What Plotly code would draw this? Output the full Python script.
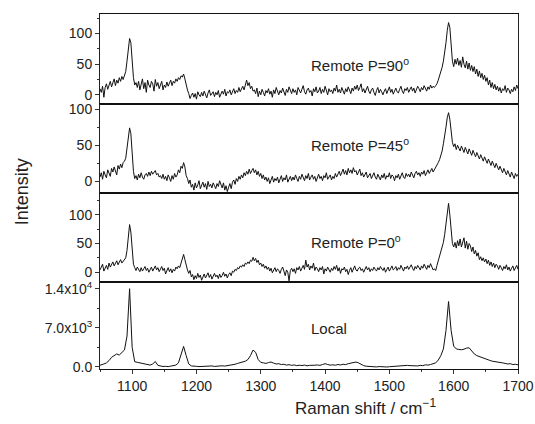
import plotly.graph_objects as go
from plotly.subplots import make_subplots

# Raman shift grids (cm^-1)
shift_remote = list(range(1050, 1701, 2))
shift_local = list(range(1048, 1701, 4))

remote_90 = [
    10, 4, 14, -4, 12, 18, 9, 16, 22, 13,
    20, 26, 15, 24, 19, 28, 22, 30, 25, 32,
    38, 55, 80, 92, 85, 50, 28, 16, 20, 12,
    22, 8, 18, 26, 10, 20, 4, 24, 16, 12,
    22, 18, 6, 25, 14, 20, 10, 18, 22, 8,
    16, 12, 21, 14, 18, 24, 15, 22, 19, 26,
    22, 28, 25, 31, 29, 34, 26, 14, 8, 2,
    -6, -1, 3, -4, 2, -7, 5, 0, -3, 4,
    -2, 6, 1, -5, 3, 8, -1, 2, 5, -3,
    4, 0, 7, -4, 2, 6, 1, 9, -2, 5,
    3, 8, 0, 6, 10, 2, 7, 4, 12, 5,
    9, 14, 8, 18, 24, 15, 20, 10, 14, 6,
    8, 2, 11, -3, 6, 0, 9, 4, -2, 7,
    3, 10, 1, 6, -4, 8, 2, 12, 5, 0,
    7, 3, 11, 5, -1, 9, 4, 13, 6, 2,
    10, 4, 8, 0, 12, 6, 3, 9, 15, 5,
    1, 8, 11, 4, 7, -2, 10, 5, 13, 3,
    6, 12, 2, 9, 4, 14, 7, 0, 10, 5,
    8, 2, 11, 6, 16, 4, 9, 3, 12, 7,
    1, 10, 5, 13, 8, 2, 11, 6, 14, 9,
    16, 7, 12, 18, 5, 10, 3, 9, 14, 6,
    2, 8, 11, 4, -1, 7, 12, 3, 9, 5,
    0, 6, 10, 2, 8, 13, 4, 9, 1, 7,
    11, 5, 3, 9, 14, 6, 2, 10, 7, 12,
    4, 9, 13, 6, 11, 3, 8, 14, 10, 5,
    12, 8, 15, 10, 6, 13, 9, 16, 11, 14,
    12, 15, 18, 24, 30, 38, 45, 55, 68, 85,
    105, 118, 110, 78, 55, 46, 58, 50, 60, 48,
    56, 45, 62, 50, 44, 55, 42, 52, 40, 48,
    38, 46, 34, 42, 30, 39, 28, 35, 25, 32,
    22, 28, 16, 24, 12, 20, 10, 17, 8, 14,
    6, 12, 3, 10, 7, 15, 4, 11, 8, 2,
    9, 5, 13, 7, 16, 10,
]

remote_45 = [
    6, 12, 3, 14, 9, 5, 16, 11, 7, 18,
    13, 20, 15, 9, 22, 17, 24, 19, 26, 28,
    32, 45, 62, 74, 66, 38, 14, 4, 8, 2,
    10, 5, 12, 6, 3, 9, 11, 7, 13, 8,
    14, 10, 12, 15, 9, 11, 6, 8, 4, 10,
    3, 7, 1, 9, 5, 0, 8, 3, 11, 6,
    9, 16, 12, 21, 18, 26, 20, 8, 4, -3,
    2, -8, -4, -12, -2, -9, -5, 1, -10, -6,
    -1, -8, -3, -11, 0, -7, -4, -9, -2, -6,
    -10, -3, -7, 1, -5, -9, -2, -12, -6, -14,
    -8, -3, -10, -1, 2, -4, 4, 0, 7, 3,
    9, 5, 12, 8, 14, 10, 17, 11, 15, 18,
    12, 16, 9, 14, 7, 11, 4, 9, 2, 6,
    0, 5, -3, 3, 7, -1, 4, 1, 6, -2,
    3, 8, 0, 5, 2, 9, -1, 4, 7, 1,
    6, 2, 9, 4, 0, 7, 3, 10, 5, 1,
    8, 4, 11, 2, 6, 9, 3, 7, 0, 5,
    10, 4, 7, 1, 8, 5, 12, 3, 6, 9,
    2, 7, 4, 11, 6, 9, 14, 8, 12, 17,
    10, 15, 9, 18, 12, 16, 11, 19, 13, 15,
    9, 14, 17, 8, 12, 6, 10, 13, 5, 9,
    11, 4, 8, 12, 6, 3, 10, 7, 2, 9,
    5, 11, 3, 8, 6, 12, 4, 9, 7, 1,
    8, 5, 10, 3, 9, 12, 6, 4, 11, 7,
    10, 6, 13, 8, 5, 11, 14, 9, 12, 7,
    13, 10, 15, 8, 12, 16, 11, 14, 18, 13,
    16, 19, 22, 26, 30, 36, 42, 52, 62, 75,
    88, 95, 86, 65, 54, 48, 52, 44, 50, 46,
    42, 49, 45, 40, 47, 43, 38, 45, 41, 36,
    43, 38, 34, 40, 36, 31, 37, 33, 28, 34,
    30, 25, 31, 27, 22, 28, 24, 19, 25, 20,
    16, 21, 17, 12, 18, 14, 9, 15, 11, 6,
    13, 8, 4, 11, 7, 10,
]

remote_0 = [
    4, 10, 14, 2, 8, 12, 5, 16, 9, 13,
    18, 11, 15, 20, 13, 17, 22, 16, 19, 23,
    25, 38, 62, 83, 70, 35, 14, 8, 3, 9,
    4, 1, 8, 2, 6, 10, 3, 7, 0, 5,
    9, 2, 6, 11, 4, 8, 1, 5, 10, 3,
    7, -3, 4, 8, 1, 6, -1, 5, 2, 9,
    6, 11, 8, 15, 24, 31, 22, 10, 4, -2,
    3, -8, -4, -13, -6, -11, -2, -9, -5, -14,
    -7, -3, -10, -6, -1, -9, -4, -12, -7, -2,
    -8, -5, -11, -3, -9, -6, 0, -7, -3, -10,
    -4, -1, -6, 2, 0, 5, 3, 8, 6, 11,
    9, 13, 10, 16, 14, 18, 15, 21, 19, 26,
    20, 24, 17, 21, 13, 16, 10, 14, 7, 11,
    5, 9, 2, 7, -1, 4, 8, 1, 6, 3,
    -2, 5, 9, 2, -6, 4, 0, -15, 3, 7,
    1, 6, -2, 8, 4, 10, 2, 7, 12, 5,
    21, 9, 14, 4, 11, 7, 16, 3, 9, 6,
    1, 8, 4, 10, -3, 6, 2, 9, 5, 0,
    7, 3, 10, 5, 12, 2, 8, -2, 6, 4,
    9, 1, 5, -4, 3, 8, 0, 6, 11, 4,
    2, 7, 9, 3, 6, 0, 5, 10, 4, 8,
    1, 6, 3, 9, 5, 2, 8, 4, 10, 6,
    3, 8, 0, 5, 9, 2, 7, 11, 4, 6,
    10, 3, 8, 5, 12, 7, 2, 9, 6, 11,
    5, 9, 13, 7, 3, 10, 6, 12, 8, 4,
    11, 7, 14, 9, 5, 12, 8, 15, 10, 4,
    6, 3, 12, 20, 27, 34, 42, 52, 66, 88,
    110, 120, 100, 68, 50, 44, 52, 42, 55, 46,
    58, 44, 52, 60, 42, 54, 40, 50, 46, 36,
    44, 32, 38, 28, 34, 22, 27, 20, 25, 18,
    23, 15, 21, 12, 18, 10, 16, 8, 14, 11,
    5, 12, 8, 3, 10, 6, 13, 4, 9, 2,
    7, 11, 3, 8, 12, 5,
]

local = [
    200, 300, 500, 700, 1100, 1700, 2000, 2300, 2100, 2500,
    3000, 5500, 14000, 3500, 900, 800, 700, 650, 550, 400,
    300, 500, 950, 250, 100, 50, 80, 30, 120, 150,
    300, 700, 2200, 3650, 2000, 500, 150, 50, 80, 30,
    60, 120, 40, 90, 150, 60, 130, 80, 180, 120,
    200, 250, 300, 450, 600, 750, 850, 1000, 1300, 2000,
    3000, 2600, 1300, 800, 700, 600, 750, 850, 650, 500,
    550, 400, 450, 300, 380, 250, 330, 200, 280, 220,
    300, 180, 250, 200, 280, 320, 250, 400, 550, 400,
    300, 350, 280, 400, 320, 450, 380, 550, 620, 750,
    850, 700, 400, 200, 100, 50, -50, 20, -30, 40,
    -20, 30, -40, 10, 60, 0, 80, 150, 200, 300,
    250, 200, 150, 100, 150, 250, 200, 350, 300, 400,
    500, 700, 1200, 2000, 3200, 6500, 11700, 6500, 3700, 3200,
    3100, 3050, 3150, 3350, 3400, 2800, 2300, 2000, 1800, 1600,
    1400, 1300, 1150, 1000, 950, 850, 750, 700, 600, 500,
    550, 400, 450, 350,
]

assert len(remote_90) == len(shift_remote), len(remote_90)
assert len(remote_45) == len(shift_remote), len(remote_45)
assert len(remote_0) == len(shift_remote), len(remote_0)
assert len(local) == len(shift_local), len(local)

series = [(shift_remote, remote_90), (shift_remote, remote_45),
          (shift_remote, remote_0), (shift_local, local)]
labels = ["Remote P=90<sup>o</sup>", "Remote P=45<sup>o</sup>",
          "Remote P=0<sup>o</sup>", "Local"]
label_y = [49, 51, 53, 6950]
y_ranges = [[-15, 132], [-16, 107], [-17, 138], [-400, 15200]]
y_tickvals = [[0, 50, 100], [0, 50, 100], [0, 50, 100], [0, 7000, 14000]]
y_ticktext = [["0", "50", "100"], ["0", "50", "100"], ["0", "50", "100"],
              ["0.0", "7.0x10<sup>3</sup>", "1.4x10<sup>4</sup>"]]
y_minor = [25, 25, 25, 3500]
x_tickvals = [1100, 1200, 1300, 1400, 1500, 1600, 1700]

FONT = "Liberation Sans, Arial, sans-serif"

fig = make_subplots(rows=4, cols=1, shared_xaxes=True, vertical_spacing=0,
                    row_heights=[90, 89, 89, 87])

for i, (xs, ys) in enumerate(series):
    r = i + 1
    fig.add_trace(go.Scatter(x=xs, y=ys, mode="lines",
                             line=dict(color="#111111", width=1),
                             showlegend=False, hoverinfo="skip"), row=r, col=1)
    fig.update_yaxes(range=y_ranges[i], tickvals=y_tickvals[i], ticktext=y_ticktext[i],
                     ticks="outside", ticklen=4, tickwidth=1, tickcolor="#333",
                     showline=True, linecolor="#222", linewidth=1, mirror=True,
                     showgrid=False, zeroline=False, automargin=False,
                     minor=dict(ticks="outside", ticklen=2, dtick=y_minor[i],
                                tick0=0, tickcolor="#333", showgrid=False),
                     tickfont=dict(family=FONT, size=14, color="#222"),
                     row=r, col=1)
    fig.update_xaxes(range=[1050, 1700], showline=True, linecolor="#111", linewidth=1,
                     mirror=True, showgrid=False, zeroline=False, automargin=False,
                     row=r, col=1)
    yref = "y" if r == 1 else f"y{r}"
    fig.add_annotation(x=1375, y=label_y[i], xref="x", yref=yref, text=labels[i],
                       showarrow=False, xanchor="left", yanchor="middle",
                       font=dict(family=FONT, size=15, color="#222"))

fig.update_xaxes(tickvals=x_tickvals, ticks="outside", ticklen=4, tickwidth=1,
                 tickcolor="#333",
                 minor=dict(ticks="outside", ticklen=2, dtick=50, tick0=1050,
                            tickcolor="#333", showgrid=False),
                 tickfont=dict(family=FONT, size=14, color="#222"),
                 row=4, col=1)

fig.add_annotation(x=-0.187, y=0.5, xref="paper", yref="paper", text="Intensity",
                   textangle=-90, showarrow=False, xanchor="center", yanchor="middle",
                   font=dict(family=FONT, size=18, color="#222"))
fig.add_annotation(x=0.634, y=-0.108, xref="paper", yref="paper",
                   text="Raman shift / cm<sup>\u22121</sup>",
                   showarrow=False, xanchor="center", yanchor="middle",
                   font=dict(family=FONT, size=17, color="#222"))

fig.update_layout(width=535, height=424,
                  margin=dict(l=100, r=17, t=14, b=55),
                  paper_bgcolor="white", plot_bgcolor="white")

fig.write_html("out.html", config={"displayModeBar": False},
               post_script="document.body.style.margin='0';document.body.style.overflow='hidden';")
